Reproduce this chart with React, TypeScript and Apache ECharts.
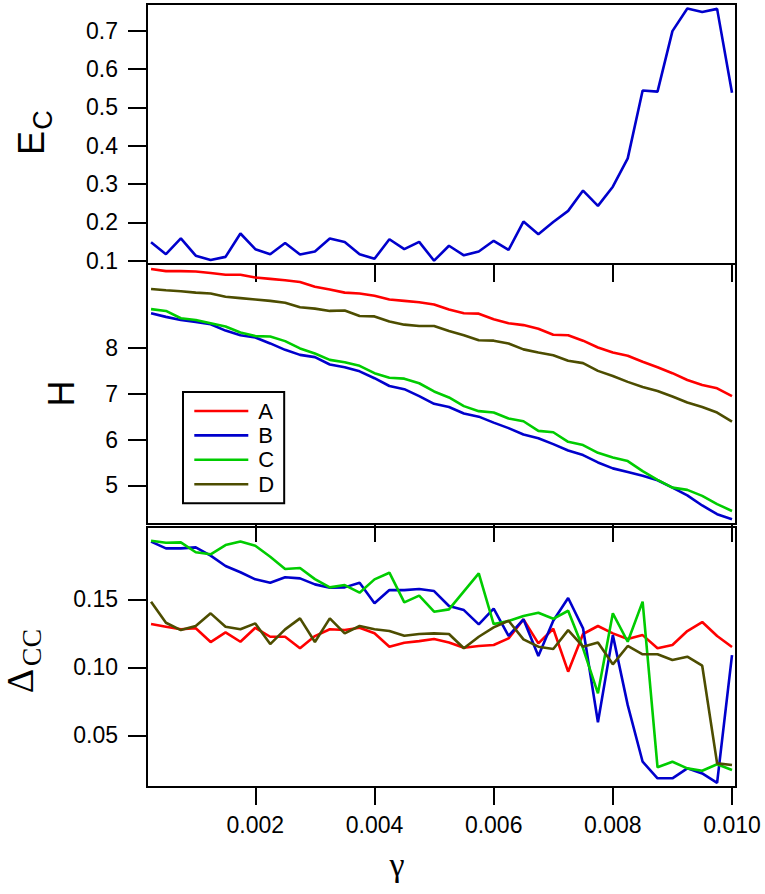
import React, { useEffect, useRef } from "react";
import * as echarts from "echarts";

// x values (gamma)
const gamma = [
  0.00025, 0.0005, 0.00075, 0.001, 0.00125, 0.0015, 0.00175, 0.002, 0.00225, 0.0025,
  0.00275, 0.003, 0.00325, 0.0035, 0.00375, 0.004, 0.00425, 0.0045, 0.00475, 0.005,
  0.00525, 0.0055, 0.00575, 0.006, 0.00625, 0.0065, 0.00675, 0.007, 0.00725, 0.0075,
  0.00775, 0.008, 0.00825, 0.0085, 0.00875, 0.009, 0.00925, 0.0095, 0.00975, 0.01,
];

// Top panel: E_C
const ecValues = [
  0.148, 0.117, 0.158, 0.113, 0.102, 0.110, 0.171, 0.130, 0.117, 0.146,
  0.116, 0.124, 0.158, 0.149, 0.117, 0.105, 0.156, 0.130, 0.149, 0.100,
  0.139, 0.114, 0.124, 0.152, 0.128, 0.202, 0.169, 0.201, 0.230, 0.283,
  0.243, 0.293, 0.367, 0.544, 0.541, 0.699, 0.758, 0.749, 0.757, 0.538,
];

// Middle panel: H
const hA = [
  9.725, 9.68, 9.68, 9.67, 9.64, 9.60, 9.60, 9.54, 9.51, 9.48,
  9.44, 9.34, 9.28, 9.21, 9.19, 9.14, 9.06, 9.03, 9.00, 8.95,
  8.84, 8.76, 8.75, 8.63, 8.54, 8.50, 8.42, 8.29, 8.28, 8.16,
  8.01, 7.90, 7.83, 7.70, 7.58, 7.45, 7.30, 7.19, 7.12, 6.95,
];
const hB = [
  8.76, 8.68, 8.61, 8.57, 8.52, 8.38, 8.28, 8.23, 8.10, 7.96,
  7.85, 7.80, 7.64, 7.58, 7.49, 7.34, 7.17, 7.10, 6.95, 6.78,
  6.71, 6.57, 6.50, 6.37, 6.25, 6.11, 6.03, 5.90, 5.76, 5.66,
  5.50, 5.37, 5.29, 5.21, 5.11, 4.95, 4.78, 4.56, 4.37, 4.26,
];
const hC = [
  8.85, 8.81, 8.65, 8.61, 8.54, 8.47, 8.34, 8.26, 8.25, 8.15,
  7.99, 7.88, 7.74, 7.69, 7.61, 7.45, 7.35, 7.33, 7.23, 7.05,
  6.92, 6.73, 6.62, 6.59, 6.46, 6.40, 6.19, 6.16, 5.95, 5.88,
  5.71, 5.61, 5.53, 5.31, 5.12, 4.95, 4.90, 4.77, 4.59, 4.44,
];
const hD = [
  9.29, 9.26, 9.24, 9.21, 9.19, 9.12, 9.09, 9.06, 9.03, 8.99,
  8.89, 8.86, 8.81, 8.82, 8.70, 8.69, 8.58, 8.51, 8.48, 8.48,
  8.37, 8.28, 8.17, 8.16, 8.10, 7.97, 7.90, 7.84, 7.72, 7.67,
  7.50, 7.39, 7.26, 7.15, 7.06, 6.94, 6.81, 6.71, 6.59, 6.39,
];

// Bottom panel: Delta_CC
const dA = [
  0.1318, 0.1299, 0.128, 0.1287, 0.1186, 0.1257, 0.1188, 0.1291, 0.1225, 0.1225,
  0.114, 0.123, 0.128, 0.1274, 0.1291, 0.125, 0.1152, 0.1181, 0.1193, 0.1208,
  0.1183, 0.1144, 0.1157, 0.1164, 0.1213, 0.1353, 0.1176, 0.1284, 0.0968, 0.1245,
  0.1304, 0.125, 0.1208, 0.1237, 0.114, 0.1164, 0.1267, 0.1333, 0.123, 0.1149,
];
const dB = [
  0.1924, 0.1875, 0.1875, 0.1882, 0.1821, 0.1745, 0.1699, 0.1647, 0.1622, 0.1662,
  0.1654, 0.161, 0.1585, 0.1588, 0.1622, 0.1471, 0.1568, 0.1568, 0.1576, 0.1561,
  0.1451, 0.1421, 0.1316, 0.1431, 0.1232, 0.1353, 0.1083, 0.1343, 0.151, 0.1287,
  0.0596, 0.1237, 0.0722, 0.0306, 0.0184, 0.0184, 0.0257, 0.022, 0.0151, 0.109,
];
const dC = [
  0.1931, 0.1916, 0.1919, 0.1846, 0.1831, 0.1899, 0.1926, 0.1894, 0.1813, 0.1723,
  0.173, 0.1649, 0.1588, 0.1605, 0.1549, 0.1647, 0.1696, 0.1478, 0.1527, 0.1409,
  0.1426, 0.1559, 0.1691, 0.1318, 0.134, 0.1377, 0.1401, 0.1357, 0.1416, 0.114,
  0.0809, 0.1397, 0.1188, 0.1483, 0.0265, 0.0306, 0.0257, 0.024, 0.0287, 0.0245,
];
const dD = [
  0.1483, 0.1328, 0.1274, 0.1304, 0.1397, 0.1299, 0.128, 0.1323, 0.1171, 0.1279,
  0.136, 0.1186, 0.136, 0.125, 0.1304, 0.128, 0.1267, 0.1232, 0.1245, 0.125,
  0.1245, 0.114, 0.1225, 0.1294, 0.1343, 0.1206, 0.1152, 0.1135, 0.1274, 0.1152,
  0.1183, 0.1022, 0.1157, 0.1096, 0.1096, 0.1054, 0.1078, 0.1012, 0.0294, 0.0282,
];

const seriesNames = ["A", "B", "C", "D"];
const xTicks = [0.002, 0.004, 0.006, 0.008, 0.01];
const ecTicks = [0.1, 0.2, 0.3, 0.4, 0.5, 0.6, 0.7];
const hTicks = [5, 6, 7, 8];
const dTicks = [0.05, 0.1, 0.15];

const COLORS = ["#ff0000", "#0000cc", "#00cc00", "#4d4d00"];
const SANS = "Liberation Sans";
const SERIF = "Liberation Serif";

export default function App() {
  const ref = useRef<HTMLDivElement>(null);

  useEffect(() => {
    document.body.style.margin = "0";
    if (!ref.current) return;
    const chart = echarts.init(ref.current, null, { renderer: "svg" });

    const pairs = (ys: number[]) => gamma.map((g, i) => [g, ys[i]]);

    const grids = [
      { left: 147, top: 4, width: 589, height: 260 },
      { left: 147, top: 264, width: 589, height: 260 },
      { left: 147, top: 527, width: 589, height: 260 },
    ];

    const xAxes = grids.map((_, i) => ({
      gridIndex: i,
      type: "value",
      min: 0.000182,
      max: 0.010067,
      axisLine: { show: true, onZero: false, lineStyle: { color: "#000", width: 2 } },
      axisTick: {
        show: true,
        inside: false,
        length: 18,
        customValues: xTicks,
        lineStyle: { color: "#000", width: 2 },
      },
      axisLabel: {
        show: i === 2,
        customValues: xTicks,
        formatter: (v: number) => v.toFixed(3),
        fontSize: 23,
        fontFamily: SANS,
        color: "#000",
        margin: 26,
      },
      splitLine: { show: false },
    }));

    const yDefs = [
      { min: 0.0914, max: 0.7697, ticks: ecTicks, fmt: (v: number) => v.toFixed(1) },
      { min: 4.155, max: 9.835, ticks: hTicks, fmt: (v: number) => String(Math.round(v)) },
      { min: 0.012, max: 0.2032, ticks: dTicks, fmt: (v: number) => v.toFixed(2) },
    ];

    const yAxes = yDefs.map((d, i) => ({
      gridIndex: i,
      type: "value",
      min: d.min,
      max: d.max,
      axisLine: { show: true, onZero: false, lineStyle: { color: "#000", width: 2 } },
      axisTick: {
        show: true,
        inside: false,
        length: 19,
        customValues: d.ticks,
        lineStyle: { color: "#000", width: 2 },
      },
      axisLabel: {
        show: true,
        customValues: d.ticks,
        formatter: d.fmt,
        fontSize: 23,
        fontFamily: SANS,
        color: "#000",
        margin: 29,
      },
      splitLine: { show: false },
    }));

    const mkLine = (name: string, color: string, gi: number, ys: number[]) => ({
      type: "line",
      name,
      xAxisIndex: gi,
      yAxisIndex: gi,
      data: pairs(ys),
      symbol: "none",
      showSymbol: false,
      lineStyle: { color, width: 2.6 },
      itemStyle: { color },
      silent: true,
    });

    const hSets = [hA, hB, hC, hD];
    const dSets = [dA, dB, dC, dD];

    const series: any[] = [mkLine("E_C", COLORS[1], 0, ecValues)];
    seriesNames.forEach((n, i) => series.push(mkLine(n, COLORS[i], 1, hSets[i])));
    seriesNames.forEach((n, i) => series.push(mkLine(n, COLORS[i], 2, dSets[i])));

    const txt = (
      text: string,
      x: number,
      y: number,
      size: number,
      family: string,
      rot: number
    ) => ({
      type: "text",
      x,
      y,
      rotation: rot,
      style: {
        text,
        fontSize: size,
        fontFamily: family,
        fill: "#000",
        align: "center",
        verticalAlign: "middle",
      },
      silent: true,
    });

    const R = Math.PI / 2;

    chart.setOption({
      animation: false,
      backgroundColor: "#fff",
      grid: grids.map((g) => ({
        ...g,
        show: true,
        borderColor: "#000",
        borderWidth: 2,
        backgroundColor: "transparent",
      })),
      xAxis: xAxes,
      yAxis: yAxes,
      legend: {
        show: true,
        data: seriesNames,
        orient: "vertical",
        left: 183,
        top: 392,
        itemWidth: 54,
        itemHeight: 14,
        itemGap: 2.4,
        padding: [8, 10, 8, 10],
        borderColor: "#000",
        borderWidth: 2,
        backgroundColor: "#fff",
        selectedMode: false,
        itemStyle: { opacity: 0 },
        lineStyle: { width: 2.6 },
        textStyle: {
          fontSize: 22,
          fontFamily: SANS,
          color: "#000",
          lineHeight: 22,
          padding: [0, 0, 0, 5],
        },
      },
      series,
      graphic: [
        txt("E", 31.5, 143, 36, SANS, R),
        txt("C", 43, 120, 27, SANS, R),
        txt("H", 61.5, 393.5, 36, SANS, R),
        txt("\u0394", 19.5, 681, 38, SERIF, R),
        txt("CC", 31, 647.5, 28, SERIF, R),
        txt("\u03b3", 397, 864, 34, SERIF, 0),
      ],
    });

    return () => chart.dispose();
  }, []);

  return <div ref={ref} style={{ width: 765, height: 894 }} />;
}
